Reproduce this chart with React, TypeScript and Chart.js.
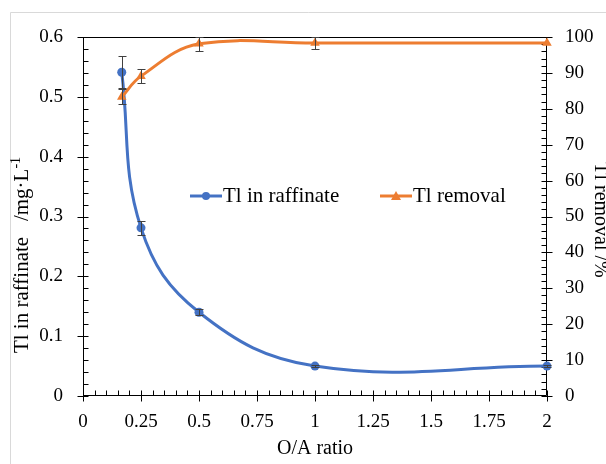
import React, { useEffect, useRef } from "react";
import { Chart, registerables } from "chart.js";

Chart.register(...registerables);

const oaRatio = [0.167, 0.25, 0.5, 1, 2];
const tlRaffinate = [0.541, 0.281, 0.14, 0.05, 0.05];
const tlRaffinateErr = [0.027, 0.012, 0.005, 0.002, 0.002];
const tlRemoval = [83.3, 89.1, 98.1, 98.3, 98.3];
const tlRemovalErr = [2.1, 2.0, 2.0, 1.6, 0];

const xTicks = [0, 0.25, 0.5, 0.75, 1, 1.25, 1.5, 1.75, 2];
const yLeftTicks = [0, 0.1, 0.2, 0.3, 0.4, 0.5, 0.6];
const yRightTicks = [0, 10, 20, 30, 40, 50, 60, 70, 80, 90, 100];

const seriesLabels = ["Tl in raffinate", "Tl removal"];
const xTitle = "O/A ratio";
const yLeftTitle = "Tl in raffinate   /mg·L";
const yLeftTitleSup = "-1";
const yRightTitle = "Tl removal /%";

const BLUE = "#4472C4";
const ORANGE = "#ED7D31";
const FONT = "'Liberation Serif', 'DejaVu Serif', serif";

const fmt = (v: number) => String(Number(v.toFixed(3)));

const decorPlugin = {
  id: "decor",
  beforeDraw(chart: any) {
    const ctx = chart.ctx;
    ctx.save();
    ctx.fillStyle = "#fff";
    ctx.fillRect(0, 0, chart.width, chart.height);
    ctx.strokeStyle = "#d9d9d9";
    ctx.lineWidth = 1;
    ctx.beginPath();
    ctx.moveTo(10.5, chart.height);
    ctx.lineTo(10.5, 12.5);
    ctx.lineTo(chart.width, 12.5);
    ctx.stroke();
    ctx.restore();
  },
  beforeDatasetsDraw(chart: any) {
    const ctx = chart.ctx;
    const a = chart.chartArea;
    const x = chart.scales.x;
    const y = chart.scales.y;
    const y1 = chart.scales.y1;
    ctx.save();
    ctx.strokeStyle = "#000";
    ctx.lineWidth = 1;
    const L = Math.round(a.left) + 0.5;
    const R = Math.round(a.right) - 0.5;
    const T = Math.round(a.top) + 0.5;
    const B = Math.round(a.bottom) - 0.5;
    ctx.beginPath();
    ctx.rect(L, T, R - L, B - T);
    for (let i = 0; i < xTicks.length; i++) {
      const px = Math.round(x.getPixelForValue(xTicks[i])) + 0.5;
      ctx.moveTo(px, B - 5);
      ctx.lineTo(px, B + 6);
      if (i < xTicks.length - 1) {
        const st = (xTicks[i + 1] - xTicks[i]) / 5;
        for (let k = 1; k < 5; k++) {
          const mx = Math.round(x.getPixelForValue(xTicks[i] + st * k)) + 0.5;
          ctx.moveTo(mx, B);
          ctx.lineTo(mx, B - 5);
        }
      }
    }
    for (let i = 0; i < yLeftTicks.length; i++) {
      const py = Math.round(y.getPixelForValue(yLeftTicks[i])) + 0.5;
      ctx.moveTo(L - 6, py);
      ctx.lineTo(L + 5, py);
      if (i < yLeftTicks.length - 1) {
        const st = (yLeftTicks[i + 1] - yLeftTicks[i]) / 5;
        for (let k = 1; k < 5; k++) {
          const my = Math.round(y.getPixelForValue(yLeftTicks[i] + st * k)) + 0.5;
          ctx.moveTo(L, my);
          ctx.lineTo(L + 5, my);
        }
      }
    }
    for (let i = 0; i < yRightTicks.length; i++) {
      const py = Math.round(y1.getPixelForValue(yRightTicks[i])) + 0.5;
      ctx.moveTo(R - 5, py);
      ctx.lineTo(R + 6, py);
      if (i < yRightTicks.length - 1) {
        const st = (yRightTicks[i + 1] - yRightTicks[i]) / 5;
        for (let k = 1; k < 5; k++) {
          const my = Math.round(y1.getPixelForValue(yRightTicks[i] + st * k)) + 0.5;
          ctx.moveTo(R, my);
          ctx.lineTo(R - 5, my);
        }
      }
    }
    ctx.stroke();

    ctx.fillStyle = "#000";
    ctx.textBaseline = "middle";
    ctx.textAlign = "center";
    ctx.font = `20px ${FONT}`;
    ctx.fillText(xTitle, (a.left + a.right) / 2, 449);

    ctx.save();
    ctx.translate(22, 255);
    ctx.rotate(-Math.PI / 2);
    ctx.font = `21px ${FONT}`;
    const w1 = ctx.measureText(yLeftTitle).width;
    ctx.font = `14px ${FONT}`;
    const w2 = ctx.measureText(yLeftTitleSup).width;
    const start = -(w1 + w2) / 2;
    ctx.textAlign = "left";
    ctx.font = `21px ${FONT}`;
    ctx.fillText(yLeftTitle, start, 0);
    ctx.font = `14px ${FONT}`;
    ctx.fillText(yLeftTitleSup, start + w1, -6);
    ctx.restore();

    ctx.save();
    ctx.translate(600, 220);
    ctx.rotate(Math.PI / 2);
    ctx.font = `20px ${FONT}`;
    ctx.textAlign = "center";
    ctx.fillText(yRightTitle, 0, 0);
    ctx.restore();

    ctx.restore();
  },
  afterDatasetsDraw(chart: any) {
    const ctx = chart.ctx;
    const x = chart.scales.x;
    ctx.save();
    ctx.strokeStyle = "#404040";
    ctx.lineWidth = 1;
    const sets = [
      { vals: tlRaffinate, errs: tlRaffinateErr, scale: chart.scales.y },
      { vals: tlRemoval, errs: tlRemovalErr, scale: chart.scales.y1 },
    ];
    ctx.beginPath();
    for (const s of sets) {
      for (let i = 0; i < oaRatio.length; i++) {
        if (!s.errs[i]) continue;
        const px = Math.round(x.getPixelForValue(oaRatio[i])) + 0.5;
        const top = Math.round(s.scale.getPixelForValue(s.vals[i] + s.errs[i])) + 0.5;
        const bot = Math.round(s.scale.getPixelForValue(s.vals[i] - s.errs[i])) + 0.5;
        ctx.moveTo(px, top);
        ctx.lineTo(px, bot);
        ctx.moveTo(px - 4, top);
        ctx.lineTo(px + 4, top);
        ctx.moveTo(px - 4, bot);
        ctx.lineTo(px + 4, bot);
      }
    }
    ctx.stroke();

    const ly = 196;
    const items = [
      { x0: 190, color: BLUE, style: "circle", label: seriesLabels[0] },
      { x0: 380, color: ORANGE, style: "triangle", label: seriesLabels[1] },
    ];
    for (const it of items) {
      ctx.strokeStyle = it.color;
      ctx.fillStyle = it.color;
      ctx.lineWidth = 3;
      ctx.beginPath();
      ctx.moveTo(it.x0, ly);
      ctx.lineTo(it.x0 + 32, ly);
      ctx.stroke();
      const cx = it.x0 + 16;
      ctx.beginPath();
      if (it.style === "circle") {
        ctx.arc(cx, ly, 4, 0, Math.PI * 2);
      } else {
        ctx.moveTo(cx, ly - 5);
        ctx.lineTo(cx + 5, ly + 4);
        ctx.lineTo(cx - 5, ly + 4);
        ctx.closePath();
      }
      ctx.fill();
      ctx.fillStyle = "#000";
      ctx.font = `21px ${FONT}`;
      ctx.textAlign = "left";
      ctx.textBaseline = "middle";
      ctx.fillText(it.label, it.x0 + 33, ly);
    }
    ctx.restore();
  },
};

export default function App() {
  const ref = useRef<HTMLCanvasElement | null>(null);
  useEffect(() => {
    if (!ref.current) return;
    const tickFont = { family: FONT, size: 19 };
    const chart = new Chart(ref.current, {
      type: "line",
      data: {
        datasets: [
          {
            label: seriesLabels[0],
            data: oaRatio.map((v, i) => ({ x: v, y: tlRaffinate[i] })),
            yAxisID: "y",
            borderColor: BLUE,
            backgroundColor: BLUE,
            borderWidth: 3,
            pointRadius: 4.5,
            pointBorderWidth: 0,
            pointStyle: "circle",
            tension: 0.4,
            clip: false as any,
            order: 1,
          },
          {
            label: seriesLabels[1],
            data: oaRatio.map((v, i) => ({ x: v, y: tlRemoval[i] })),
            yAxisID: "y1",
            borderColor: ORANGE,
            backgroundColor: ORANGE,
            borderWidth: 3,
            pointRadius: 5.5,
            pointBorderWidth: 0,
            pointStyle: "triangle",
            tension: 0.4,
            clip: false as any,
            order: 0,
          },
        ],
      },
      options: {
        responsive: false,
        animation: false,
        layout: { padding: { top: 37, left: 0, right: 0, bottom: 0 } },
        plugins: { legend: { display: false }, tooltip: { enabled: false } },
        scales: {
          x: {
            type: "linear",
            min: 0,
            max: 2,
            grid: { display: false, drawTicks: false },
            border: { display: false },
            afterBuildTicks: (s: any) => {
              s.ticks = xTicks.map((v) => ({ value: v }));
            },
            afterFit: (s: any) => {
              s.height = 68;
            },
            ticks: {
              font: tickFont,
              color: "#000",
              padding: 15,
              maxRotation: 0,
              autoSkip: false,
              callback: (v: any) => fmt(Number(v)),
            },
          },
          y: {
            type: "linear",
            position: "left",
            min: 0,
            max: 0.6,
            grid: { display: false, drawTicks: false },
            border: { display: false },
            afterBuildTicks: (s: any) => {
              s.ticks = yLeftTicks.map((v) => ({ value: v }));
            },
            afterFit: (s: any) => {
              s.width = 83;
            },
            ticks: {
              font: tickFont,
              color: "#000",
              padding: 20,
              autoSkip: false,
              callback: (v: any) => fmt(Number(v)),
            },
          },
          y1: {
            type: "linear",
            position: "right",
            min: 0,
            max: 100,
            grid: { display: false, drawTicks: false },
            border: { display: false },
            afterBuildTicks: (s: any) => {
              s.ticks = yRightTicks.map((v) => ({ value: v }));
            },
            afterFit: (s: any) => {
              s.width = 59;
            },
            ticks: {
              font: tickFont,
              color: "#000",
              padding: 18,
              autoSkip: false,
              callback: (v: any) => fmt(Number(v)),
            },
          },
        },
      },
      plugins: [decorPlugin],
    } as any);
    return () => chart.destroy();
  }, []);
  return (
    <div style={{ position: "fixed", left: 0, top: 0, width: 606, height: 464, overflow: "hidden", background: "#fff" }}>
      <canvas ref={ref} width={606} height={464} style={{ display: "block" }} />
    </div>
  );
}
